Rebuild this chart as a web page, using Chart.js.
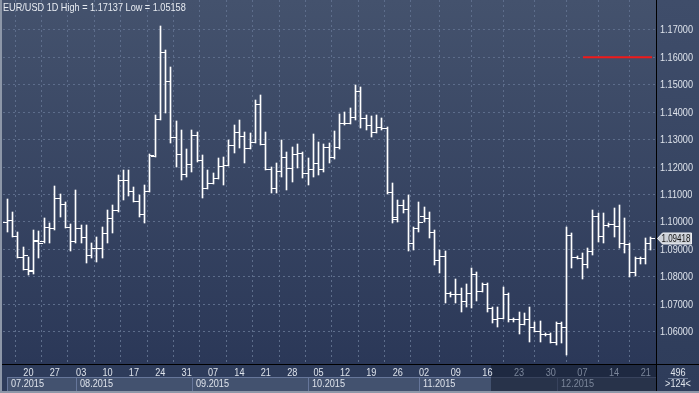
<!DOCTYPE html>
<html>
<head>
<meta charset="utf-8">
<style>
  body { margin: 0; background: #2c3a58; }
  canvas { display: block; }
</style>
<script src="https://cdn.jsdelivr.net/npm/chart.js"></script>
</head>
<body>
<canvas data-euro width="699" height="393"></canvas>
<script>
// cotacoes diarias EUR/USD (abertura, maxima, minima, fechamento)
const abertura = [1.1000, 1.1007, 1.0949, 1.0872, 1.0828, 1.0821, 1.0930, 1.0930, 1.0982, 1.0978,
  1.1087, 1.1065, 1.0982, 1.0930, 1.0978, 1.0945, 1.0879, 1.0905, 1.0905, 1.0960,
  1.1014, 1.1044, 1.1153, 1.1153, 1.1113, 1.1076, 1.1029, 1.1113, 1.1240, 1.1375,
  1.1620, 1.1514, 1.1310, 1.1248, 1.1175, 1.1211, 1.1317, 1.1226, 1.1124, 1.1142,
  1.1160, 1.1204, 1.1208, 1.1281, 1.1328, 1.1313, 1.1270, 1.1292, 1.1430, 1.1284,
  1.1193, 1.1124, 1.1186, 1.1237, 1.1197, 1.1248, 1.1251, 1.1178, 1.1193, 1.1215,
  1.1193, 1.1273, 1.1237, 1.1273, 1.1361, 1.1361, 1.1383, 1.1478, 1.1379, 1.1354,
  1.1328, 1.1346, 1.1343, 1.1109, 1.1011, 1.1062, 1.1047, 1.0923, 1.0978, 1.1022,
  1.1014, 1.0963, 1.0861, 1.0876, 1.0741, 1.0737, 1.0737, 1.0712, 1.0741, 1.0810,
  1.0748, 1.0774, 1.0686, 1.0646, 1.0650, 1.0737, 1.0646, 1.0646, 1.0628, 1.0646,
  1.0617, 1.0602, 1.0591, 1.0591, 1.0562, 1.0631, 1.0617, 1.0952, 1.0872, 1.0868,
  1.0847, 1.0894, 1.1022, 1.0949, 1.0989, 1.0992, 1.0985, 1.0923, 1.0920, 1.0817,
  1.0868, 1.0868, 1.0923];
const maxima = [1.1084, 1.1036, 1.0963, 1.0909, 1.0872, 1.0971, 1.0967, 1.1014, 1.0996, 1.1131,
  1.1102, 1.1073, 1.0992, 1.1116, 1.0989, 1.0989, 1.0923, 1.0945, 1.0982, 1.1044,
  1.1062, 1.1171, 1.1189, 1.1189, 1.1127, 1.1098, 1.1135, 1.1248, 1.1390, 1.17137,
  1.1627, 1.1565, 1.1368, 1.1335, 1.1266, 1.1335, 1.1328, 1.1244, 1.1189, 1.1178,
  1.1233, 1.1237, 1.1299, 1.1354, 1.1372, 1.1328, 1.1324, 1.1445, 1.1463, 1.1328,
  1.1200, 1.1215, 1.1299, 1.1255, 1.1273, 1.1284, 1.1255, 1.1233, 1.1321, 1.1292,
  1.1284, 1.1288, 1.1332, 1.1394, 1.1401, 1.1416, 1.1499, 1.1492, 1.1390, 1.1386,
  1.1390, 1.1379, 1.1346, 1.1142, 1.1080, 1.1080, 1.1098, 1.0982, 1.1073, 1.1054,
  1.1036, 1.0971, 1.0898, 1.0894, 1.0745, 1.0792, 1.0759, 1.0774, 1.0832, 1.0817,
  1.0777, 1.0777, 1.0690, 1.0690, 1.0763, 1.0741, 1.0650, 1.0672, 1.0668, 1.0690,
  1.0635, 1.0639, 1.0595, 1.0595, 1.0635, 1.0635, 1.0982, 1.0960, 1.0876, 1.0887,
  1.0905, 1.1044, 1.1033, 1.1033, 1.0996, 1.1051, 1.1062, 1.1014, 1.0923, 1.0872,
  1.0872, 1.0941, 1.0945];
const minima = [1.0963, 1.0945, 1.0868, 1.0825, 1.0807, 1.0810, 1.0868, 1.0923, 1.0923, 1.0971,
  1.1018, 1.0978, 1.0894, 1.0923, 1.0923, 1.0850, 1.0868, 1.0854, 1.0868, 1.0923,
  1.0960, 1.1036, 1.1080, 1.1095, 1.1073, 1.1018, 1.0996, 1.1109, 1.1237, 1.1372,
  1.1397, 1.1288, 1.1200, 1.1153, 1.1164, 1.1182, 1.1219, 1.1087, 1.1120, 1.1138,
  1.1157, 1.1135, 1.1204, 1.1251, 1.1270, 1.1215, 1.1266, 1.1288, 1.1281, 1.1189,
  1.1106, 1.1106, 1.1164, 1.1116, 1.1146, 1.1197, 1.1160, 1.1135, 1.1164, 1.1171,
  1.1182, 1.1215, 1.1230, 1.1266, 1.1354, 1.1357, 1.1372, 1.1343, 1.1335, 1.1310,
  1.1324, 1.1335, 1.1102, 1.0996, 1.1000, 1.1033, 1.0894, 1.0898, 1.0963, 1.1000,
  1.0941, 1.0843, 1.0814, 1.0704, 1.0726, 1.0704, 1.0672, 1.0690, 1.0686, 1.0712,
  1.0745, 1.0672, 1.0631, 1.0617, 1.0646, 1.0635, 1.0635, 1.0591, 1.0624, 1.0562,
  1.0599, 1.0562, 1.0584, 1.0559, 1.0551, 1.0559, 1.05158, 1.0832, 1.0865, 1.0792,
  1.0832, 1.0879, 1.0927, 1.0923, 1.0982, 1.0945, 1.0905, 1.0887, 1.0799, 1.0803,
  1.0847, 1.0847, 1.0898];
const fechamento = [1.1007, 1.0949, 1.0872, 1.0879, 1.0825, 1.0934, 1.0923, 1.0982, 1.0978, 1.1087,
  1.1065, 1.0982, 1.0930, 1.0978, 1.0945, 1.0879, 1.0905, 1.0905, 1.0960, 1.1014,
  1.1044, 1.1153, 1.1153, 1.1113, 1.1076, 1.1029, 1.1113, 1.1244, 1.1375, 1.1620,
  1.1514, 1.1310, 1.1248, 1.1175, 1.1211, 1.1317, 1.1226, 1.1124, 1.1142, 1.1160,
  1.1204, 1.1208, 1.1281, 1.1328, 1.1313, 1.1270, 1.1292, 1.1430, 1.1284, 1.1193,
  1.1124, 1.1186, 1.1237, 1.1197, 1.1248, 1.1251, 1.1178, 1.1193, 1.1215, 1.1193,
  1.1273, 1.1237, 1.1273, 1.1361, 1.1361, 1.1383, 1.1478, 1.1379, 1.1354, 1.1328,
  1.1346, 1.1343, 1.1109, 1.1018, 1.1062, 1.1047, 1.0923, 1.0978, 1.1000, 1.1014,
  1.0963, 1.0861, 1.0876, 1.0741, 1.0737, 1.0737, 1.0712, 1.0741, 1.0810, 1.0748,
  1.0774, 1.0686, 1.0646, 1.0650, 1.0737, 1.0646, 1.0646, 1.0628, 1.0646, 1.0617,
  1.0602, 1.0591, 1.0591, 1.0562, 1.0631, 1.0617, 1.0952, 1.0872, 1.0868, 1.0847,
  1.0894, 1.1022, 1.0949, 1.0989, 1.0992, 1.0985, 1.0923, 1.0920, 1.0817, 1.0868,
  1.0868, 1.0923, 1.09418];

// rotulos das segundas-feiras e o indice da barra onde caem
const rotulosSemana = ['20', '27', '03', '10', '17', '24', '31', '07', '14', '21', '28', '05',
  '12', '19', '26', '02', '09', '16', '23', '30', '07', '14', '21'];
const posicoesSemana = [4, 9, 14, 19, 24, 29, 34, 39, 44, 49, 54, 59, 64, 69, 74, 79, 85, 91,
  97, 103, 109, 115, 121];
const rotulosMes = ['07.2015', '08.2015', '09.2015', '10.2015', '11.2015', '12.2015'];
const inicioMes = [0, 13, 35, 57, 78, 104.2];
const ticksPreco = [1.06, 1.07, 1.08, 1.09, 1.10, 1.11, 1.12, 1.13, 1.14, 1.15, 1.16, 1.17];

const nivelAlerta = 1.16;     // linha vermelha
const alertaDe = 109.1;
const alertaAte = 122.2;
const inicioSombra = 91.7;    // parte do eixo de datas escurecida
const totalBarras = '496';
const barrasVisiveis = '>124<';

const fonte = '11px "Liberation Sans", Arial, sans-serif';
const aperto = 0.83; // a fonte original e estreita
const corTexto = '#dfe4ec';
const corApagada = '#7c879b';

// tracinhos de abertura (esquerda) e fechamento (direita), a barra fica na coluna 5
function criaTracinho(lado) {
  const c = document.createElement('canvas');
  c.width = 11;
  c.height = 3;
  const g = c.getContext('2d');
  g.fillStyle = '#ffffff';
  if (lado == 'esq') g.fillRect(1, 1, 5, 1);
  else g.fillRect(5, 1, 5, 1);
  return c;
}

// texto estreitado na horizontal
function escreve(ctx, texto, x, y, alinhamento, fator) {
  ctx.save();
  ctx.translate(x, y);
  ctx.scale(fator || aperto, 1);
  ctx.textAlign = alinhamento || 'left';
  ctx.fillText(texto, 0, 0);
  ctx.restore();
}

const moldura = {
  id: 'moldura',
  beforeDraw(grafico) {
    const { ctx, chartArea: area, width, height } = grafico;
    const escalaX = grafico.scales.x;
    ctx.save();
    let degrade = ctx.createLinearGradient(0, 0, 0, area.bottom);
    degrade.addColorStop(0, '#44526d');
    degrade.addColorStop(1, '#2b3858');
    ctx.fillStyle = degrade;
    ctx.fillRect(0, 0, width, area.bottom);

    degrade = ctx.createLinearGradient(0, 0, 0, height);
    degrade.addColorStop(0, '#3f4d6a');
    degrade.addColorStop(1, '#2e3c5a');
    ctx.fillStyle = degrade;
    ctx.fillRect(area.right, 0, width - area.right, height);

    ctx.fillStyle = '#2e3c5b';
    ctx.fillRect(0, area.bottom, area.right, height - area.bottom);

    // caixas dos meses
    const topoMes = area.bottom + 13;
    inicioMes.forEach((v, i) => {
      const x0 = Math.round(escalaX.getPixelForValue(v));
      const x1 = i < inicioMes.length - 1 ? Math.round(escalaX.getPixelForValue(inicioMes[i + 1])) : area.right;
      ctx.fillStyle = '#43526f';
      ctx.fillRect(x0, topoMes, x1 - x0, 14);
      ctx.strokeStyle = '#66769a';
      ctx.lineWidth = 1;
      ctx.strokeRect(x0 + 0.5, topoMes + 0.5, x1 - x0, 14);
    });

    const xs = Math.round(escalaX.getPixelForValue(inicioSombra));
    ctx.fillStyle = 'rgba(18,26,44,0.55)';
    ctx.fillRect(xs, area.bottom, area.right - xs, height - area.bottom);
    ctx.restore();
  },
  // barras e tracinhos alinhados ao pixel para ficarem nitidos
  beforeDatasetsDraw(grafico) {
    [0, 1, 2].forEach((d) => {
      grafico.getDatasetMeta(d).data.forEach((el) => {
        el.x = Math.floor(el.x) + 0.5;
        el.y = Math.round(el.y) + (d == 0 ? 0 : 0.5);
        if (d == 0) el.base = Math.round(el.base);
      });
    });
  },
  afterDraw(grafico) {
    const { ctx, chartArea: area, width, height } = grafico;
    const escalaX = grafico.scales.x;
    const escalaY = grafico.scales.y;
    ctx.save();
    ctx.font = fonte;
    ctx.textBaseline = 'middle';

    // titulo
    const alta = Math.max(...maxima).toFixed(5);
    const baixa = Math.min(...minima).toFixed(5);
    ctx.fillStyle = '#e8ecf2';
    escreve(ctx, 'EUR/USD 1D High = ' + alta + ' Low = ' + baixa, 3, 7.5);

    // rotulos do eixo de precos, nas posicoes da escala
    ctx.fillStyle = corTexto;
    escalaY.ticks.forEach((t) => {
      escreve(ctx, t.value.toFixed(5), area.right + 4, escalaY.getPixelForValue(t.value) + 0.5);
    });

    // rotulos das semanas
    escalaX.ticks.forEach((t) => {
      ctx.fillStyle = t.value > inicioSombra ? corApagada : corTexto;
      const r = rotulosSemana[posicoesSemana.indexOf(t.value)];
      escreve(ctx, r, escalaX.getPixelForValue(t.value), area.bottom + 8.5, 'center');
    });

    // nomes dos meses
    const xs = escalaX.getPixelForValue(inicioSombra);
    rotulosMes.forEach((r, i) => {
      const x0 = Math.round(escalaX.getPixelForValue(inicioMes[i]));
      ctx.fillStyle = x0 >= xs ? corApagada : corTexto;
      escreve(ctx, r, x0 + 4, area.bottom + 20);
    });

    // linhas pretas dos eixos
    ctx.fillStyle = '#000000';
    ctx.fillRect(2, area.bottom, width - 2, 1);
    ctx.fillRect(area.right, 0, 1, height);

    // bordas claras
    ctx.fillStyle = '#8d97a8';
    ctx.fillRect(0, 0, 2, height);
    ctx.fillRect(0, height - 2, width, 2);

    // etiqueta do ultimo preco
    const ultimo = fechamento[fechamento.length - 1];
    const y = Math.round(escalaY.getPixelForValue(ultimo)) + 0.5;
    const xe = area.right + 1.5;
    ctx.fillStyle = '#cdd1d8';
    ctx.strokeStyle = '#eef0f3';
    ctx.lineWidth = 1;
    ctx.beginPath();
    ctx.moveTo(xe, y);
    ctx.lineTo(xe + 5, y - 5.5);
    ctx.lineTo(xe + 34, y - 5.5);
    ctx.lineTo(xe + 34, y + 5.5);
    ctx.lineTo(xe + 5, y + 5.5);
    ctx.closePath();
    ctx.fill();
    ctx.stroke();
    ctx.fillStyle = '#141414';
    ctx.font = '10px "Liberation Sans", Arial, sans-serif';
    escreve(ctx, ultimo.toFixed(5), xe + 4, y + 0.5, 'left', 0.8);
    ctx.font = fonte;

    // canto de baixo a direita
    ctx.fillStyle = corTexto;
    escreve(ctx, totalBarras, area.right + 22, area.bottom + 8.5, 'center');
    escreve(ctx, barrasVisiveis, area.right + 22, area.bottom + 20, 'center');
    ctx.fillStyle = '#6c7a95';
    ctx.fillRect(area.right + 12, area.bottom + 14, 20, 1);
    ctx.restore();
  }
};

const dadosEuro = document.querySelector('[data-euro]');

const graficoEuro = new Chart(dadosEuro, {
  data: {
    datasets: [{
      type: 'bar',
      data: maxima.map((h, i) => ({ x: i, y: [minima[i], h] })),
      backgroundColor: '#ffffff',
      borderWidth: 0,
      barThickness: 1,
      grouped: false
    }, {
      type: 'scatter',
      data: abertura.map((v, i) => ({ x: i, y: v })),
      pointStyle: criaTracinho('esq'),
      pointRadius: 1
    }, {
      type: 'scatter',
      data: fechamento.map((v, i) => ({ x: i, y: v })),
      pointStyle: criaTracinho('dir'),
      pointRadius: 1
    }, {
      type: 'line',
      data: [{ x: alertaDe, y: nivelAlerta }, { x: alertaAte, y: nivelAlerta }],
      borderColor: '#f01a1a',
      borderWidth: 2,
      pointRadius: 0
    }]
  },
  options: {
    responsive: false,
    animation: false,
    devicePixelRatio: 1,
    events: [],
    layout: { autoPadding: false, padding: { left: 3, top: 0, right: 0, bottom: 0 } },
    plugins: {
      legend: { display: false },
      tooltip: { enabled: false },
      title: { display: false }
    },
    scales: {
      x: {
        type: 'linear',
        position: 'bottom',
        min: -0.815,
        max: 122.95,
        offset: false,
        afterFit: (escala) => { escala.height = 29; },
        afterBuildTicks: (escala) => { escala.ticks = posicoesSemana.map(v => ({ value: v })); },
        grid: { color: '#5d6d8b', lineWidth: 1, drawTicks: false },
        border: { display: false, dash: [2, 3] },
        ticks: { display: false }
      },
      y: {
        type: 'linear',
        position: 'right',
        min: 1.0482,
        max: 1.1809,
        afterFit: (escala) => { escala.width = 43; },
        afterBuildTicks: (escala) => { escala.ticks = ticksPreco.map(v => ({ value: v })); },
        grid: { color: '#5d6d8b', lineWidth: 1, drawTicks: false },
        border: { display: false, dash: [2, 3] },
        ticks: { display: false }
      }
    }
  },
  plugins: [moldura]
});
</script>
</body>
</html>
